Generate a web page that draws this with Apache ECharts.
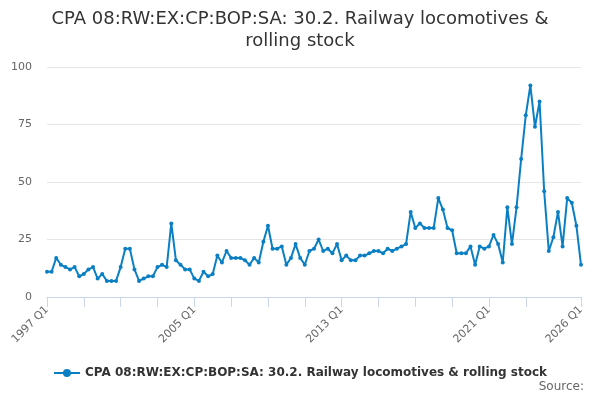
<!DOCTYPE html>
<html>
<head>
<meta charset="utf-8">
<script src="https://cdn.jsdelivr.net/npm/echarts@6/dist/echarts.min.js"></script>
<style>html,body{margin:0;padding:0;background:#fff}#c{width:600px;height:400px}</style>
</head>
<body>
<div id="c"></div>
<script>
var titleText = 'CPA 08:RW:EX:CP:BOP:SA: 30.2. Railway locomotives &\nrolling stock';
var seriesName = 'CPA 08:RW:EX:CP:BOP:SA: 30.2. Railway locomotives & rolling stock';
var sourceText = 'Source:';
var startYear = 1997, endYear = 2026;
var categories = [];
for (var y = startYear; y <= endYear; y++) {
  for (var q = 1; q <= 4; q++) {
    if (y === endYear && q > 1) break;
    categories.push(y + ' Q' + q);
  }
}
var values = [
  11,11,17,14,13,12,13,9,10,12,13,8,10,7,7,7,13,21,21,12,7,8,9,9,13,14,13,32,16,14,12,12,8,7,11,9,10,18,15,20,
  17,17,17,16,14,17,15,24,31,21,21,22,14,17,23,17,14,20,21,25,20,21,19,23,16,18,16,16,18,18,19,20,20,19,21,20,21,22,23,37,
  30,32,30,30,30,43,38,30,29,19,19,19,22,14,22,21,22,27,23,15,39,23,39,60,79,92,74,85,46,20,26,37,22,43,41,31,14
];
var yTicks = [0, 25, 50, 75, 100];
var last = categories.length - 1;
var chart = echarts.init(document.getElementById('c'));
chart.setOption({
  animation: false,
  textStyle: { fontFamily: 'DejaVu Sans' },
  title: [{
    text: titleText,
    left: 'center',
    top: 3,
    textStyle: { fontSize: 18, fontWeight: 'normal', color: '#333', lineHeight: 22, fontFamily: 'DejaVu Sans' }
  }, {
    text: sourceText,
    right: 11,
    bottom: 2,
    textStyle: { fontSize: 12, fontWeight: 'normal', color: '#666', fontFamily: 'DejaVu Sans' }
  }],
  legend: {
    bottom: 16,
    left: 'center',
    itemWidth: 26,
    itemHeight: 10,
    textStyle: { fontSize: 12, fontWeight: 'bold', color: '#333', fontFamily: 'DejaVu Sans' },
    data: [seriesName]
  },
  grid: { left: 47, right: 19, top: 67, bottom: 103 },
  xAxis: {
    type: 'category',
    data: categories,
    boundaryGap: false,
    axisLine: { lineStyle: { color: '#ccd6eb' } },
    axisTick: {
      length: 10,
      lineStyle: { color: '#ccd6eb' },
      interval: function (i) { return (i % 8 === 0 && i <= last - 8) || i === last; }
    },
    axisLabel: {
      rotate: 45,
      color: '#666',
      fontSize: 11,
      margin: 11,
      interval: function (i) { return i % 32 === 0 || i === last; }
    }
  },
  yAxis: {
    type: 'value',
    min: yTicks[0],
    max: yTicks[yTicks.length - 1],
    interval: 25,
    axisLine: { show: false },
    axisTick: { show: false },
    axisLabel: { color: '#666', fontSize: 11, margin: 15 },
    splitLine: { lineStyle: { color: '#e6e6e6' } }
  },
  series: [{
    name: seriesName,
    type: 'line',
    data: values,
    symbol: 'circle',
    symbolSize: 4,
    showSymbol: true,
    showAllSymbol: true,
    color: '#0a7fc4',
    lineStyle: { width: 2 },
    itemStyle: { color: '#0a7fc4' }
  }]
});
</script>
</body>
</html>
